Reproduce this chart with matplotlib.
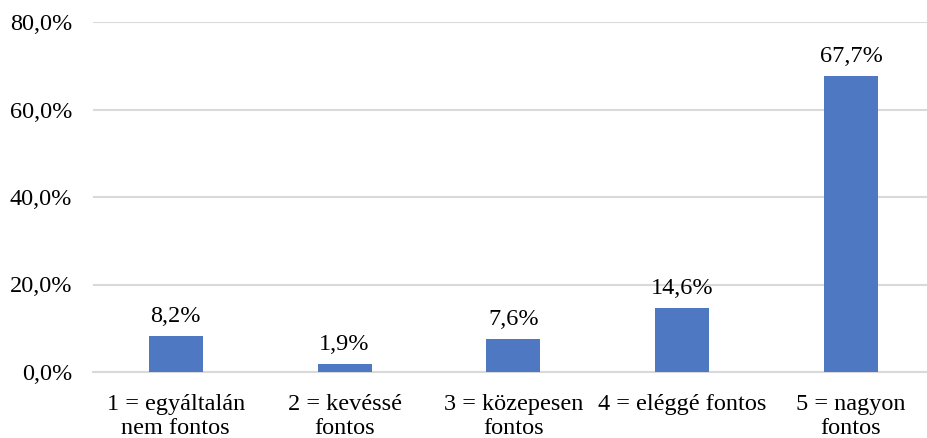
import matplotlib.pyplot as plt

categories = ["1 = egyáltalán\nnem fontos", "2 = kevéssé\nfontos", "3 = közepesen\nfontos",
              "4 = eléggé fontos", "5 = nagyon\nfontos"]
values = [8.2, 1.9, 7.6, 14.6, 67.7]
yticks = [0, 20, 40, 60, 80]

plt.rcParams["font.family"] = ["Liberation Serif", "DejaVu Serif"]

fig = plt.figure(figsize=(9.27, 4.38), dpi=100)
ax = fig.add_axes([93 / 927, 66 / 438, 834 / 927, 350 / 438])

x = list(range(len(values)))
ax.bar(x, values, width=0.32, color="#4F78C2", zorder=3)
for xi, v in zip(x, values):
    ax.text(xi, v + 2.0, f"{v:.1f}%".replace(".", ","), ha="center", va="bottom", fontsize=17.5)

ax.set_xlim(-0.49, 4.45)
ax.set_ylim(0, 80)
ax.set_yticks(yticks)
ax.set_yticklabels([f"{t:.1f}%".replace(".", ",") for t in yticks], fontsize=17.5)
ax.set_xticks(x)
ax.set_xticklabels(categories, fontsize=17.5, linespacing=1.2)
ax.tick_params(length=0)
ax.tick_params(axis="x", pad=16)
ax.tick_params(axis="y", pad=15)
ax.grid(axis="y", color="#D9D9D9", linewidth=1.5, zorder=0)
for s in ["top", "right", "left"]:
    ax.spines[s].set_visible(False)
ax.spines["bottom"].set_color("#D9D9D9")
ax.spines["bottom"].set_linewidth(1.5)

fig.savefig("out.png", dpi=100)
